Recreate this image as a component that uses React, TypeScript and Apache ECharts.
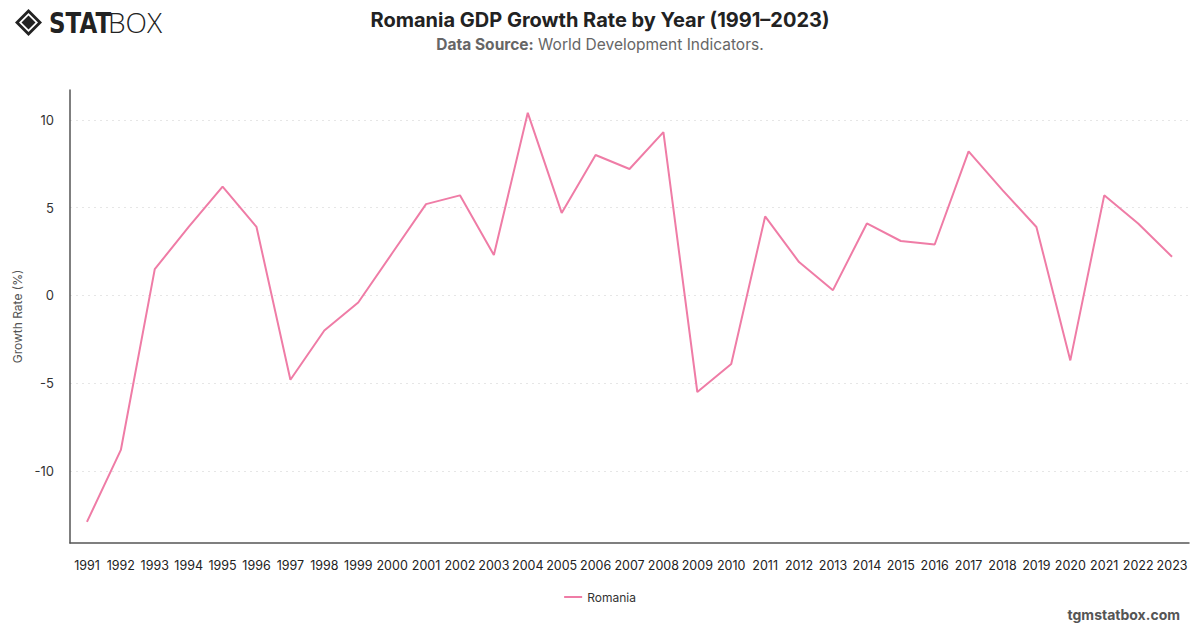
import React, { useEffect, useRef } from "react";
import * as echarts from "echarts";

// Romania annual GDP growth (%), World Development Indicators
const years: string[] = [
  "1991", "1992", "1993", "1994", "1995", "1996", "1997", "1998", "1999", "2000",
  "2001", "2002", "2003", "2004", "2005", "2006", "2007", "2008", "2009", "2010",
  "2011", "2012", "2013", "2014", "2015", "2016", "2017", "2018", "2019", "2020",
  "2021", "2022", "2023",
];
const growthRate: number[] = [
  -12.9, -8.8, 1.5, 3.9, 6.2, 3.9, -4.8, -2.0, -0.4, 2.4,
  5.2, 5.7, 2.3, 10.4, 4.7, 8.0, 7.2, 9.3, -5.5, -3.9,
  4.5, 1.9, 0.3, 4.1, 3.1, 2.9, 8.2, 6.0, 3.9, -3.7,
  5.7, 4.1, 2.2,
];
const seriesName = "Romania";
const titleText = "Romania GDP Growth Rate by Year (1991\u20132023)";
const yAxisName = "Growth Rate (%)";

const FONT = "Inter, Roboto, 'Liberation Sans', sans-serif";
const LINE_COLOR = "#ef7ca6";

export default function App() {
  const ref = useRef<HTMLDivElement>(null);

  useEffect(() => {
    if (!ref.current) return;
    const chart = echarts.init(ref.current, undefined, { renderer: "svg" });

    // STATBOX mark: diamond emblem followed by the wordmark
    const cx = 28.5;
    const cy = 22.5;
    const diamond = (r: number) => [
      [cx, cy - r],
      [cx + r, cy],
      [cx, cy + r],
      [cx - r, cy],
    ];

    chart.setOption({
      animation: false,
      backgroundColor: "#ffffff",
      textStyle: { fontFamily: FONT },
      title: {
        text: titleText,
        left: "center",
        top: 5,
        textStyle: { fontSize: 20, fontWeight: "bold", color: "#222", fontFamily: FONT },
        subtext: "{b|Data Source:} World Development Indicators.",
        itemGap: 6,
        subtextStyle: {
          fontSize: 15.5,
          color: "#666",
          fontFamily: FONT,
          rich: {
            b: { fontSize: 15.5, fontWeight: "bold", color: "#666", fontFamily: FONT },
          },
        },
      },
      graphic: [
        { type: "polygon", shape: { points: diamond(13.5) }, style: { fill: "#222" } },
        { type: "polygon", shape: { points: diamond(9.5) }, style: { fill: "#fff" } },
        { type: "polygon", shape: { points: diamond(7) }, style: { fill: "#222" } },
        {
          type: "text",
          x: 49,
          y: 9,
          scaleX: 0.82,
          style: {
            text: "STAT",
            fontSize: 28,
            fontWeight: "bold",
            fill: "#222",
            fontFamily: "'DejaVu Sans', sans-serif",
          },
        },
        {
          type: "text",
          x: 108,
          y: 8,
          style: {
            text: "BOX",
            fontSize: 28,
            fontWeight: 300,
            fill: "#222",
            fontFamily: "'Open Sans', Lato, sans-serif",
          },
        },
        {
          type: "text",
          right: 20,
          top: 607,
          style: {
            text: "tgmstatbox.com",
            fontSize: 14,
            fontWeight: "bold",
            fill: "#555",
            fontFamily: FONT,
          },
        },
      ],
      legend: {
        bottom: 20,
        left: "center",
        icon: "rect",
        itemWidth: 18,
        itemHeight: 2,
        textStyle: { fontSize: 12, color: "#333", fontFamily: FONT },
        data: [seriesName],
      },
      grid: { left: 70, right: 11, top: 90, bottom: 85 },
      xAxis: {
        type: "category",
        data: years,
        boundaryGap: true,
        axisLine: { onZero: false, lineStyle: { color: "#555", width: 1.5 } },
        axisTick: { show: false },
        axisLabel: { color: "#222", fontSize: 12.5, margin: 16, interval: 0, fontFamily: FONT },
        splitLine: { show: false },
      },
      yAxis: {
        type: "value",
        min: -14.1,
        max: 11.7,
        name: yAxisName,
        nameLocation: "middle",
        nameGap: 41,
        nameTextStyle: { color: "#555", fontSize: 12, fontFamily: FONT },
        axisLine: { show: true, lineStyle: { color: "#555", width: 1.5 } },
        axisTick: { show: false },
        axisLabel: {
          color: "#333",
          fontSize: 13,
          margin: 16,
          showMinLabel: false,
          showMaxLabel: false,
          fontFamily: FONT,
        },
        splitLine: {
          show: true,
          showMinLine: false,
          showMaxLine: false,
          lineStyle: { color: "#e6e6e6", type: [2, 4], width: 1 },
        },
      },
      series: [
        {
          name: seriesName,
          type: "line",
          data: growthRate,
          showSymbol: false,
          symbol: "none",
          lineStyle: { color: LINE_COLOR, width: 2 },
          itemStyle: { color: LINE_COLOR },
        },
      ],
    });

    return () => chart.dispose();
  }, []);

  return (
    <div
      ref={ref}
      style={{ position: "absolute", left: 0, top: 0, width: 1200, height: 628 }}
    />
  );
}
